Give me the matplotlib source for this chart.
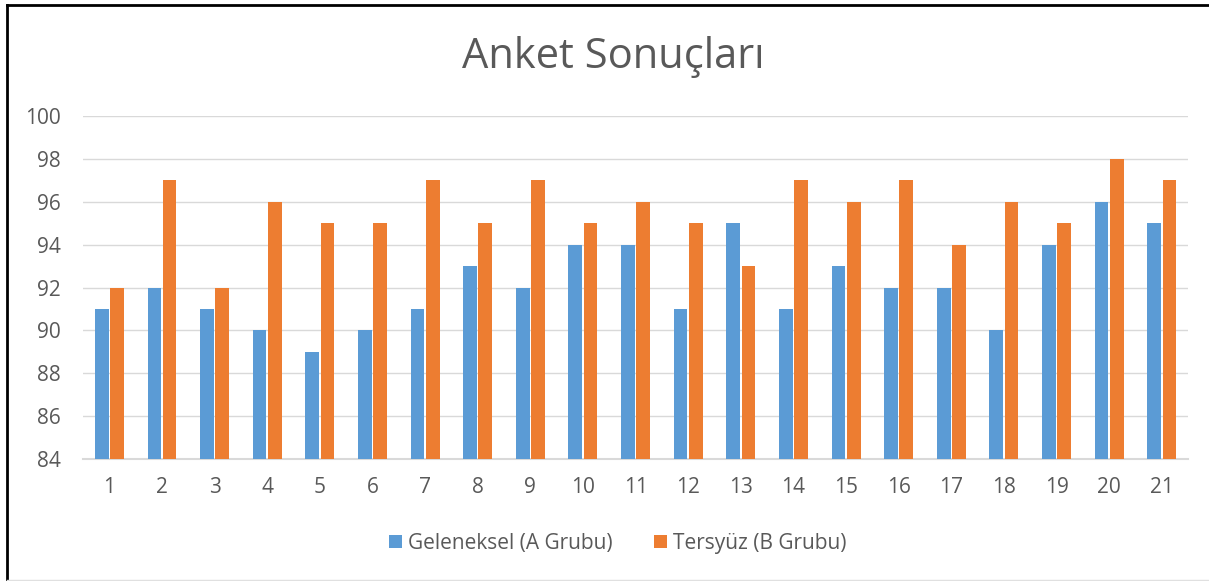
import numpy as np
import matplotlib.pyplot as plt
from matplotlib.lines import Line2D

plt.rcParams['font.family'] = ['Open Sans', 'DejaVu Sans']

categories = [str(i) for i in range(1, 22)]
grup_a = [91, 92, 91, 90, 89, 90, 91, 93, 92, 94, 94, 91, 95, 91, 93, 92, 92, 90, 94, 96, 95]
grup_b = [92, 97, 92, 96, 95, 95, 97, 95, 97, 95, 96, 95, 93, 97, 96, 97, 94, 96, 95, 98, 97]

fig = plt.figure(figsize=(12.09, 5.81), dpi=100)
ax = fig.add_axes([0.0687, 0.21, 0.914, 0.5903])

x = np.arange(len(categories))
w = 0.26
ax.bar(x - 0.145, np.array(grup_a) - 84, w, bottom=84, color='#5B9BD5', label='Geleneksel (A Grubu)', zorder=3)
ax.bar(x + 0.145, np.array(grup_b) - 84, w, bottom=84, color='#ED7D31', label='Tersyüz (B Grubu)', zorder=3)

ax.set_ylim(84, 100)
ax.set_xlim(-0.5, len(categories) - 0.5)
ax.set_yticks(range(84, 101, 2))
ax.set_xticks(x)
ax.set_xticklabels(categories)
ax.grid(axis='y', color='#D9D9D9', linewidth=1, zorder=0)
for s in ['top', 'right', 'left']:
    ax.spines[s].set_visible(False)
ax.spines['bottom'].set_color('#D9D9D9')
ax.spines['bottom'].set_linewidth(1.5)
ax.tick_params(length=0, labelsize=15, colors='#595959')
ax.tick_params(axis='x', pad=13)
ax.tick_params(axis='y', pad=16)

fig.text(0.507, 0.902, 'Anket Sonuçları', ha='center', va='center', fontsize=30, color='#595959')
fig.legend(loc='center', bbox_to_anchor=(0.511, 0.065), ncol=2, frameon=False,
           fontsize=15, labelcolor='#595959', handlelength=0.6, handleheight=0.6,
           handletextpad=0.3, columnspacing=2.0)

# kenarlık
fig.add_artist(Line2D([0.0058, 0.0058], [0.0, 0.992], color='black', linewidth=2, transform=fig.transFigure))
fig.add_artist(Line2D([0.0058, 1.0], [0.992, 0.992], color='black', linewidth=2, transform=fig.transFigure))
fig.add_artist(Line2D([0.0058, 1.0], [0.002, 0.002], color='#E0E0E0', linewidth=1, transform=fig.transFigure))

fig.savefig('out.png', dpi=100)
